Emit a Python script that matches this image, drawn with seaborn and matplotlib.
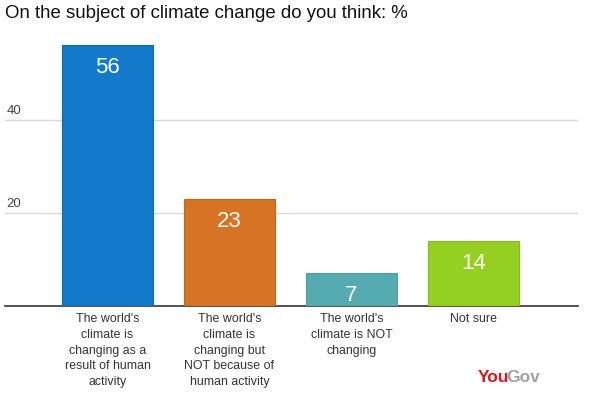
import numpy as np
import pandas as pd
import matplotlib
matplotlib.use("Agg")
import matplotlib.pyplot as plt
import seaborn as sns
from matplotlib.transforms import blended_transform_factory

# Chart data
categories = [
    "The world's\nclimate is\nchanging as a\nresult of human\nactivity",
    "The world's\nclimate is\nchanging but\nNOT because of\nhuman activity",
    "The world's\nclimate is NOT\nchanging",
    "Not sure",
]
values = [56, 23, 7, 14]
colors = ["#1479c9", "#d67325", "#56abb0", "#94cf22"]
edge_colors = ["#1068b0", "#c0651c", "#4b9ea3", "#84bd18"]
grid_ticks = [20, 40]
title = "On the subject of climate change do you think: %"

df = pd.DataFrame({"category": categories, "value": values})

sns.set_style("white")
plt.rcParams["font.family"] = ["Liberation Sans", "DejaVu Sans"]

fig = plt.figure(figsize=(5.98, 3.95), dpi=100)
ax = fig.add_axes([5 / 598, 89 / 395, 573 / 598, 270 / 395])

sns.barplot(data=df, x="category", y="value", hue="category", palette=colors,
            legend=False, width=0.746, saturation=1, ax=ax, zorder=3)
for patch, ec in zip(ax.patches, edge_colors):
    patch.set_edgecolor(ec)
    patch.set_linewidth(0.8)

ax.set_xlim(-0.84, 3.857)
ax.set_ylim(0, 58)
ax.set_xlabel("")
ax.set_ylabel("")

# gridlines and in-plot tick labels
for t in grid_ticks:
    ax.axhline(t, color="#d9d9d9", lw=1, zorder=1)
    ax.text(0.003, t + 0.6, str(t), transform=blended_transform_factory(ax.transAxes, ax.transData),
            ha="left", va="bottom", fontsize=9.5, color="#444444")
ax.set_yticks([])

for s in ["top", "right", "left"]:
    ax.spines[s].set_visible(False)
ax.spines["bottom"].set_color("#333333")
ax.spines["bottom"].set_linewidth(1.2)

ax.set_xticks(range(len(categories)))
ax.set_xticklabels(categories, fontsize=8.9, color="#333333", linespacing=1.42, va="top")
ax.tick_params(axis="x", length=0, pad=5)

# value labels inside bars
for i, v in enumerate(values):
    ax.text(i, v - 4.8, str(v), ha="center", va="center", fontsize=16, color="white", zorder=4)

fig.text(5 / 598, 1 - 14 / 395, title, ha="left", va="center", fontsize=13.4, color="#111111")

# YouGov logo text: place "Gov" right after "You"
you = fig.text(478 / 598, 1 - 377 / 395, "You", ha="left", va="center", fontsize=12.5,
               fontweight="bold", color="#d7171f")
fig.canvas.draw()
bb = you.get_window_extent()
fig.text((bb.x1 - 3) / fig.bbox.width, 1 - 377 / 395, "Gov", ha="left", va="center",
         fontsize=12.5, fontweight="bold", color="#a0a0a0")

fig.savefig("out.png", dpi=100)
